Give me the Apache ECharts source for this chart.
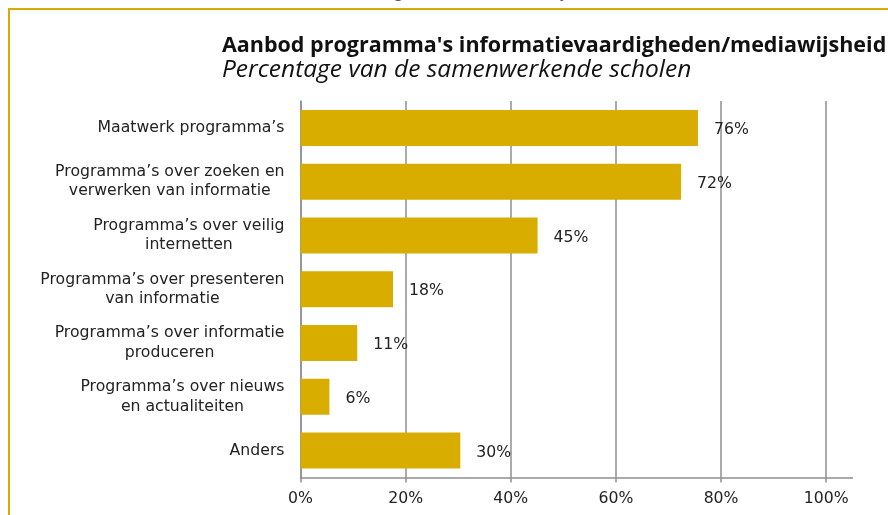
<!DOCTYPE html>
<html>
<head>
<meta charset="utf-8">
<script src="https://cdn.jsdelivr.net/npm/echarts@6/dist/echarts.min.js"></script>
<style>
  html, body { margin: 0; padding: 0; background: #fff; }
  #chart { width: 888px; height: 515px; }
</style>
</head>
<body>
<div id="chart"></div>
<script>
const categories = [
  "Maatwerk programma’s",
  "Programma’s over zoeken en\nverwerken van informatie",
  "Programma’s over veilig\ninternetten",
  "Programma’s over presenteren\nvan informatie",
  "Programma’s over informatie\nproduceren",
  "Programma’s over nieuws\nen actualiteiten",
  "Anders",
];
const percentages = [75.6, 72.4, 45.1, 17.6, 10.8, 5.5, 30.4];
const tickValues = [0, 20, 40, 60, 80, 100];

const barColor = "#d9ad00";
const frameColor = "#d9ab00";
const gridColor = "#8f8f8f";
const textColor = "#222222";

const chart = echarts.init(document.getElementById("chart"), null, { renderer: "canvas" });

// centre every line of a wrapped label, block stays right-aligned
function categoryLabel(value) {
  return value.split("\n").map((line) => "{c|" + line + "}").join("\n");
}

chart.setOption({
  animation: false,
  grid: { left: 300.5, right: 35.5, top: 101, bottom: 37.5 },
  graphic: [
    { type: "line", shape: { x1: 8, y1: 9, x2: 888, y2: 9 }, style: { stroke: frameColor, lineWidth: 2 } },
    { type: "line", shape: { x1: 9, y1: 8, x2: 9, y2: 515 }, style: { stroke: frameColor, lineWidth: 2 } },
    // descenders of the line of text above the frame, cut off by the page edge
    { type: "text", left: 395, top: -19, style: { text: "g", font: "italic 20px 'Liberation Serif', serif", fill: "#555" } },
    { type: "text", left: 562, top: -19, style: { text: "y", font: "italic 20px 'Liberation Serif', serif", fill: "#555" } },
    { type: "text", left: 832, top: -19, style: { text: ",", font: "italic 20px 'Liberation Serif', serif", fill: "#555" } },
    {
      type: "text", left: 222, top: 35,
      style: {
        text: "Aanbod programma's informatievaardigheden/mediawijsheid",
        font: "bold 21.5px 'Open Sans', sans-serif", fill: "#111",
      },
    },
    {
      type: "text", left: 222, top: 58,
      style: {
        text: "Percentage van de samenwerkende scholen",
        font: "italic 24.5px 'Open Sans', sans-serif", fill: "#111",
      },
    },
  ],
  xAxis: {
    type: "value",
    min: 0,
    max: 105,
    interval: 20,
    axisLine: { show: true, lineStyle: { color: gridColor, width: 1.5 } },
    axisTick: { show: true, length: 5, customValues: tickValues, lineStyle: { color: gridColor, width: 1.5 } },
    axisLabel: {
      customValues: tickValues,
      margin: 13,
      color: textColor,
      fontFamily: "DejaVu Sans",
      fontSize: 15.7,
      formatter: (v) => v + "%",
    },
    splitLine: { show: true, lineStyle: { color: gridColor, width: 1.5 } },
  },
  yAxis: {
    type: "category",
    inverse: true,
    data: categories,
    axisLine: { show: true, lineStyle: { color: gridColor, width: 1.5 } },
    axisTick: { show: false },
    axisLabel: {
      margin: 16,
      color: textColor,
      align: "right",
      formatter: categoryLabel,
      rich: {
        c: {
          align: "center",
          color: textColor,
          fontFamily: "DejaVu Sans",
          fontSize: 15.7,
          lineHeight: 19.5,
        },
      },
    },
  },
  series: [
    {
      type: "bar",
      data: percentages,
      barWidth: 36,
      itemStyle: { color: barColor },
      label: {
        show: true,
        position: "right",
        distance: 16,
        offset: [0, 2],
        color: textColor,
        fontFamily: "DejaVu Sans",
        fontSize: 15.7,
        formatter: (p) => Math.round(p.value) + "%",
      },
    },
  ],
});
</script>
</body>
</html>
